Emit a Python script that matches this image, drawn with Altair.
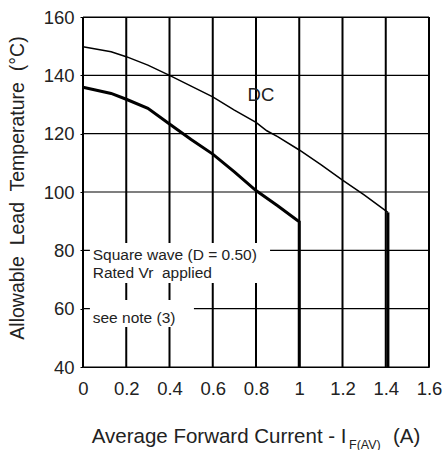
import altair as alt
import pandas as pd

# --- data ---
dc_x = [0.0, 0.13, 0.2, 0.3, 0.4, 0.5, 0.6, 0.7, 0.8, 0.85, 0.9, 1.0, 1.1, 1.2, 1.3, 1.41]
dc_y = [149.8, 148.1, 146.4, 143.5, 140.0, 136.3, 132.6, 128.1, 123.9, 121.0, 119.0, 114.4, 109.4, 104.1, 99.0, 93.0]
dc_drop_x = [1.41]
dc_drop_y = [93.0, 40.0]

sq_x = [0.0, 0.13, 0.2, 0.3, 0.4, 0.5, 0.6, 0.7, 0.8, 0.9, 1.0, 1.0]
sq_y = [135.9, 133.8, 131.8, 128.7, 123.3, 118.0, 113.0, 106.9, 100.5, 95.3, 89.8, 40.0]

x_ticks = [0, 0.2, 0.4, 0.6, 0.8, 1.0, 1.2, 1.4, 1.6]
y_ticks = [40, 60, 80, 100, 120, 140, 160]

label_text = ["DC"]
label_x = [0.823]
label_y = [133.4]

NB = "\u00a0"
note_text = ["Square wave (D = 0.50)", "Rated Vr" + NB + " applied", "see note (3)"]
note_x = [0.045, 0.045, 0.045]
note_y = [76.7, 70.4, 55.0]

box_x = [0.032, 0.032]
box_x2 = [0.865, 0.513]
box_y = [68.8, 53.7]
box_y2 = [82.5, 63.0]

y_title = "Allowable" + NB + " Lead" + NB + " Temperature" + NB + " (°C)"

FONT = "Liberation Sans"
TXT = "#222222"

W, H = 346, 350

xs = alt.Scale(domain=[0, 1.6], nice=False, zero=False)
ys = alt.Scale(domain=[40, 160], nice=False, zero=False)
ax_x = alt.Axis(values=x_ticks, grid=False, domain=False, ticks=False,
                labelPadding=12, labelFontSize=18.5, labelFont=FONT, labelColor=TXT,
                title=None, labelFlush=False, format="~g")
ax_y = alt.Axis(values=y_ticks, grid=False, domain=False, ticks=True, tickSize=3,
                tickColor="#000", labelPadding=6, labelFontSize=18.5, labelFont=FONT,
                labelColor=TXT, title=None, labelFlush=False)

X = lambda f="x": alt.X(f + ":Q", scale=xs, axis=ax_x)
Y = lambda f="y": alt.Y(f + ":Q", scale=ys, axis=ax_y)

dc_df = pd.DataFrame({"x": dc_x, "y": dc_y, "i": list(range(len(dc_x)))})
sq_df = pd.DataFrame({"x": sq_x, "y": sq_y, "i": list(range(len(sq_x)))})
drop_df = pd.DataFrame({"x": dc_drop_x, "y": [dc_drop_y[0]], "y2": [dc_drop_y[1]]})
box_df = pd.DataFrame({"x": box_x, "x2": box_x2, "y": box_y, "y2": box_y2})
note_df = pd.DataFrame({"t": note_text, "x": note_x, "y": note_y})
lab_df = pd.DataFrame({"t": label_text, "x": label_x, "y": label_y})
xg_df = pd.DataFrame({"gx": x_ticks, "gy": [y_ticks[0]] * len(x_ticks),
                      "gy2": [y_ticks[-1]] * len(x_ticks)})
yg_df = pd.DataFrame({"y": y_ticks})

xgrid = alt.Chart(xg_df).mark_rule(color="#000", strokeWidth=2).encode(
    x=X("gx"), y=Y("gy"), y2="gy2")
ygrid = alt.Chart(yg_df).mark_rule(color="#000", strokeWidth=1.2).encode(y=Y())

boxes = alt.Chart(box_df).mark_rect(color="white").encode(x=X(), x2="x2", y=Y(), y2="y2")

dc_line = alt.Chart(dc_df).mark_line(color="#000", strokeWidth=1.5).encode(
    x=X(), y=Y(), order="i:O")

dc_drop = alt.Chart(drop_df).mark_rule(color="#000", strokeWidth=3).encode(
    x=X(), y=Y(), y2="y2")

sq_line = alt.Chart(sq_df).mark_line(color="#000", strokeWidth=3, strokeJoin="miter").encode(
    x=X(), y=Y(), order="i:O")

notes = alt.Chart(note_df).mark_text(align="left", baseline="alphabetic", font=FONT,
                                     fontSize=15.5, color=TXT).encode(
    x=X(), y=Y(), text="t:N")

dc_label = alt.Chart(lab_df).mark_text(align="center", baseline="middle", font=FONT,
                                       fontSize=18.5, color=TXT).encode(
    x=X(), y=Y(), text="t:N")

# axis titles (x title has a subscript, so it is assembled from pieces)
title_df = pd.DataFrame({"t": ["x"]})
ytitle = alt.Chart(title_df).mark_text(text=y_title, angle=270,
                                       align="center", baseline="middle", font=FONT,
                                       fontSize=19.5, color=TXT).encode(
    x=alt.value(18 - 83), y=alt.value(188 - 17))
xt_main = alt.Chart(title_df).mark_text(text="Average Forward Current - I", align="left",
                                        baseline="alphabetic", font=FONT, fontSize=20.5,
                                        color=TXT).encode(
    x=alt.value(91.7 - 83), y=alt.value(443 - 17))
xt_sub = alt.Chart(title_df).mark_text(text="F(AV)", align="left", baseline="alphabetic",
                                       font=FONT, fontSize=12.5, color=TXT).encode(
    x=alt.value(349 - 83), y=alt.value(449 - 17))
xt_unit = alt.Chart(title_df).mark_text(text="(A)", align="left", baseline="alphabetic",
                                        font=FONT, fontSize=20.5, color=TXT).encode(
    x=alt.value(393 - 83), y=alt.value(443 - 17))

chart = alt.layer(xgrid, ygrid, boxes, dc_line, dc_drop, sq_line, notes, dc_label,
                  ytitle, xt_main, xt_sub, xt_unit).properties(
    width=W, height=H,
    autosize=alt.AutoSizeParams(type="none"),
    padding={"left": 83, "top": 17, "right": 17, "bottom": 83},
    background="white",
).configure_view(stroke="#000", strokeWidth=1)

chart.save("out.html", embed_options={"renderer": "svg", "actions": False})
